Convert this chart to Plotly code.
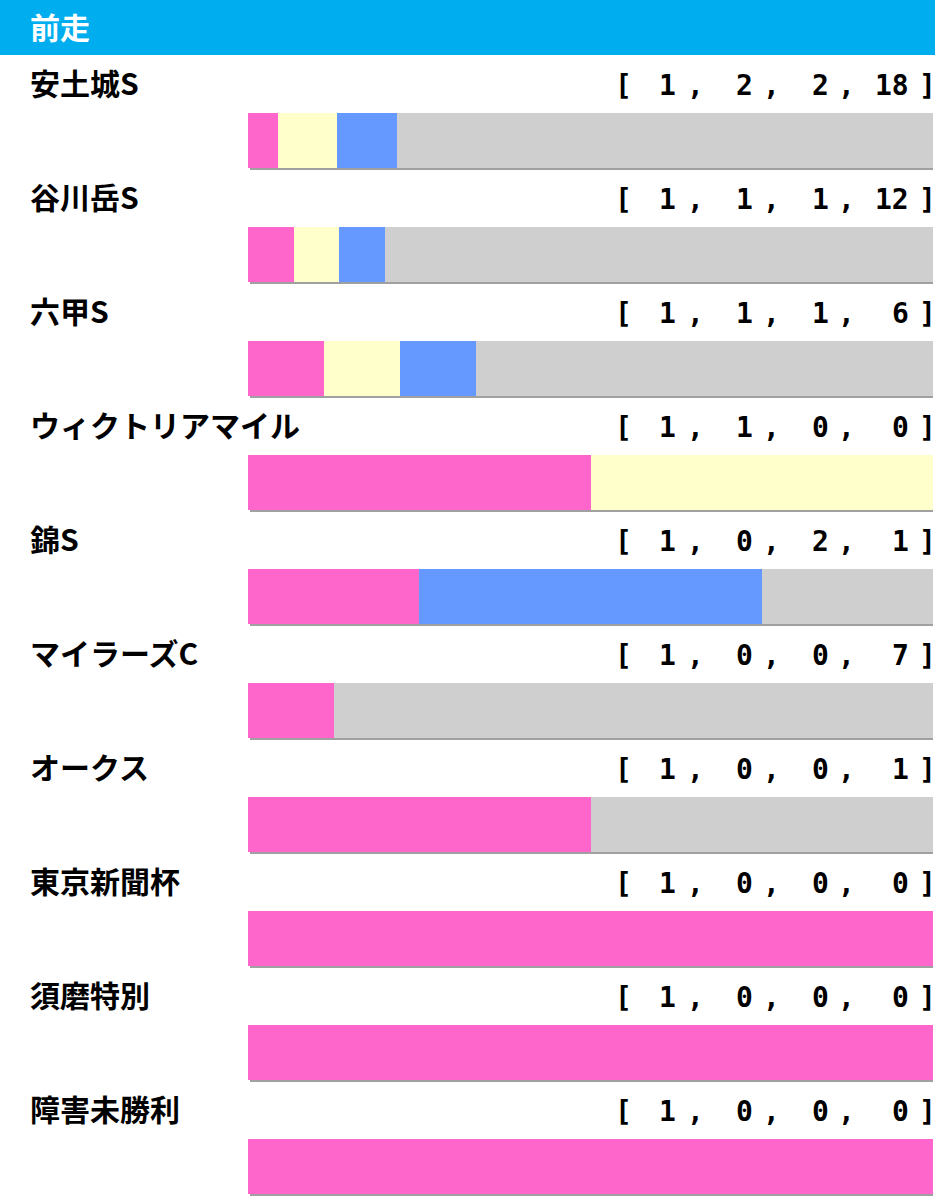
import plotly.graph_objects as go

# Data: previous race, finishes [1st, 2nd, 3rd, out of place]
races = ["安土城S", "谷川岳S", "六甲S", "ウィクトリアマイル", "錦S",
         "マイラーズC", "オークス", "東京新聞杯", "須磨特別", "障害未勝利"]
wins = [1, 1, 1, 1, 1, 1, 1, 1, 1, 1]
seconds = [2, 1, 1, 1, 0, 0, 0, 0, 0, 0]
thirds = [2, 1, 1, 0, 2, 0, 0, 0, 0, 0]
others = [18, 12, 6, 0, 1, 7, 1, 0, 0, 0]

series = [wins, seconds, thirds, others]
colors = ["#FF66CC", "#FFFFCC", "#6699FF", "#CFCFCF"]

W, H = 939, 1200
PITCH = 114          # pixels per row
ROW0 = 140.5         # pixel centre of first bar
BAR_H = 55


def px2y(p):
    return (p - ROW0) / PITCH


rows = list(range(len(races)))
totals = [sum(v) for v in zip(*series)]

fig = go.Figure()

for vals, col in zip(series, colors):
    fig.add_trace(go.Bar(
        y=rows,
        x=[v / t for v, t in zip(vals, totals)],
        orientation="h",
        width=BAR_H / PITCH,
        marker=dict(color=col, line=dict(width=0)),
        hoverinfo="skip",
    ))

# drop shadow under each bar
bar_px_w = 933 - 248
for i in rows:
    fig.add_shape(type="rect", xref="x", yref="y", layer="below",
                  x0=2 / bar_px_w, x1=1 + 2 / bar_px_w,
                  y0=i - BAR_H / PITCH / 2 + 2 / PITCH,
                  y1=i + BAR_H / PITCH / 2 + 2 / PITCH,
                  fillcolor="#A0A0A0", line=dict(width=0))

# header band
fig.add_shape(type="rect", xref="paper", yref="y", layer="below",
              x0=0, x1=935 / W, y0=px2y(0), y1=px2y(55),
              fillcolor="#00AEEF", line=dict(width=0))
fig.add_annotation(xref="paper", yref="y", x=28 / W, y=px2y(26),
                   text="<b>前走</b>", showarrow=False, xanchor="left",
                   yanchor="middle",
                   font=dict(family="Noto Sans CJK JP", size=30, color="white"))

label_font = dict(family="Noto Sans CJK JP", size=30, color="black")
mono = dict(family="DejaVu Sans Mono", size=28, color="black")
num_right = [678, 755, 831, 911]
comma_x = [695, 771, 846]

for i, name in enumerate(races):
    ly = i + px2y(82)
    fig.add_annotation(xref="paper", yref="y", x=28 / W, y=ly,
                       text=f"<b>{name}</b>", showarrow=False,
                       xanchor="left", yanchor="middle", font=label_font)
    by = i + px2y(85)
    fig.add_annotation(xref="paper", yref="y", x=623 / W, y=by, text="<b>[</b>",
                       showarrow=False, xanchor="center", yanchor="middle", font=mono)
    fig.add_annotation(xref="paper", yref="y", x=927 / W, y=by, text="<b>]</b>",
                       showarrow=False, xanchor="center", yanchor="middle", font=mono)
    for cx in comma_x:
        fig.add_annotation(xref="paper", yref="y", x=cx / W, y=by, text="<b>,</b>",
                           showarrow=False, xanchor="center", yanchor="middle", font=mono)
    for s, rx in zip(series, num_right):
        fig.add_annotation(xref="paper", yref="y", x=rx / W, y=by,
                           text=f"<b>{s[i]}</b>", showarrow=False,
                           xanchor="right", yanchor="middle", font=mono)

fig.update_layout(
    width=W, height=H,
    margin=dict(l=0, r=0, t=0, b=0),
    barmode="stack",
    showlegend=False,
    paper_bgcolor="white",
    plot_bgcolor="white",
    xaxis=dict(domain=[248 / W, 933 / W], range=[0, 1], visible=False, fixedrange=True),
    yaxis=dict(domain=[0, 1], range=[px2y(H), px2y(0)], visible=False, fixedrange=True),
)

fig.write_html("out.html", config={"displayModeBar": False},
               post_script="document.body.style.margin='0';")
